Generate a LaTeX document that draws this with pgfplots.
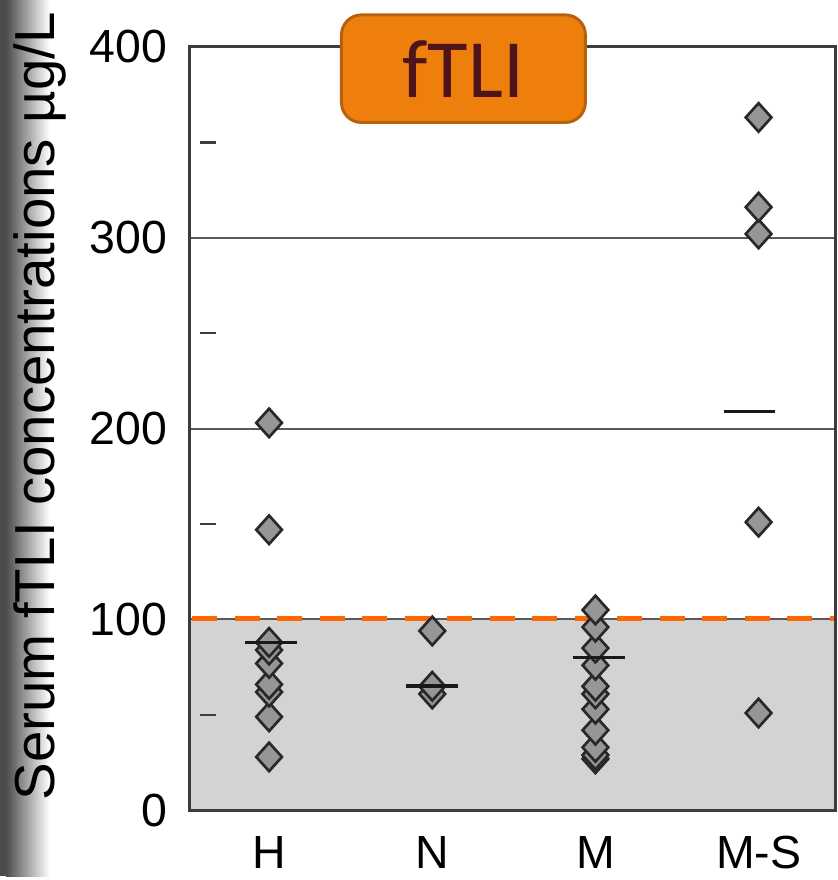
\documentclass[border=0pt]{standalone}
\usepackage{pgfplots}
\pgfplotsset{compat=1.18}
\usepackage{fontspec}
\setmainfont{Liberation Sans}
\newfontfamily\titlefont{Carlito}
\definecolor{titlefill}{RGB}{239,127,12}
\definecolor{titleborder}{RGB}{181,98,14}
\definecolor{titletext}{RGB}{78,20,26}
\definecolor{orangedash}{RGB}{255,102,0}
\definecolor{shadegray}{RGB}{211,211,211}
\definecolor{gridgray}{RGB}{90,90,90}
\definecolor{framegray}{RGB}{60,60,60}
\definecolor{diamondgray}{RGB}{150,150,150}
\definecolor{diamonddraw}{RGB}{40,40,40}

\pgfplotstableread{
x y
0 28
0 49
0 62
0 66
0 77
0 84
0 88
0 147
0 203
}\groupH
\pgfplotstableread{
x y
1 61
1 65
1 94
}\groupN
\pgfplotstableread{
x y
2 27
2 29
2 33
2 42
2 53
2 61
2 65
2 76
2 85
2 96
2 105
}\groupM
\pgfplotstableread{
x y
3 51
3 151
3 302
3 316
3 363
}\groupMS

\begin{document}
\begin{tikzpicture}
\begin{scope}[x=0.3pt,y=0.3pt]
\path[use as bounding box] (0,0) rectangle (841,880);
\fill[black!70] (0,0) rectangle (6,880);
\shade[left color=black!70, right color=white] (6,0) rectangle (50,880);
\end{scope}
\begin{axis}[
  at={(57pt,19.8pt)}, anchor=south west,
  width=194.7pt, height=230.1pt, scale only axis,
  xmin=-0.49, xmax=3.47, ymin=0, ymax=400,
  xtick={0,1,2,3}, xticklabels={H,N,M,M-S},
  ytick={0,100,200,300,400},
  ymajorgrids, grid style={color=gridgray, line width=0.6pt},
  axis line style={color=framegray, line width=0.9pt},
  major tick length=0pt, tick style={draw=none},
  /pgf/number format/assume math mode=true,
  ticklabel style={font=\fontsize{14}{16}\selectfont},
  yticklabel style={xshift=-3pt},
  xticklabel style={yshift=-4.2pt},
  ylabel={Serum fTLI concentrations µg/L},
  ylabel style={at={(axis description cs:-0.231,0.529)}, anchor=center, font=\fontsize{17}{20}\selectfont},
  clip=false,
]
\addplot[fill=shadegray, draw=none] coordinates {(-0.49,0) (3.47,0) (3.47,100) (-0.49,100)};
\addplot[color=gridgray, line width=0.6pt] coordinates {(-0.49,100) (3.47,100)};
\addplot[color=orangedash, line width=1.6pt, dash pattern=on 7.5pt off 5.3pt] coordinates {(-0.47,100.5) (3.47,100.5)};
\addplot[only marks, mark=-, mark size=2.3pt, mark options={line width=0.8pt, color=framegray}] coordinates {(-0.375,50) (-0.375,150) (-0.375,250) (-0.375,350)};
\addplot[only marks, mark=diamond*, mark size=4.3pt, mark options={xscale=1.2, fill=diamondgray, draw=diamonddraw, line width=0.8pt}] table[x=x,y=y] {\groupH};
\addplot[only marks, mark=diamond*, mark size=4.3pt, mark options={xscale=1.2, fill=diamondgray, draw=diamonddraw, line width=0.8pt}] table[x=x,y=y] {\groupN};
\addplot[only marks, mark=diamond*, mark size=4.3pt, mark options={xscale=1.2, fill=diamondgray, draw=diamonddraw, line width=0.8pt}] table[x=x,y=y] {\groupM};
\addplot[only marks, mark=diamond*, mark size=4.3pt, mark options={xscale=1.2, fill=diamondgray, draw=diamonddraw, line width=0.8pt}] table[x=x,y=y] {\groupMS};
\addplot[only marks, mark=-, mark size=7.8pt, mark options={line width=1.1pt, color=black!90}] coordinates {(0.01,88) (1.0,65) (2.02,80) (2.945,209)};
\draw[color=framegray, line width=0.9pt] (rel axis cs:0,0) rectangle (rel axis cs:1,1);
\end{axis}
\begin{scope}[x=0.3pt,y=0.3pt]
\node[draw=titleborder, fill=titlefill, line width=0.9pt, rounded corners=6pt, minimum width=73.5pt, minimum height=32.4pt, inner sep=0pt, text=titletext, font=\titlefont\fontsize{25}{30}\selectfont] at (465.5,811) {fTLI};
\end{scope}
\end{tikzpicture}
\end{document}
